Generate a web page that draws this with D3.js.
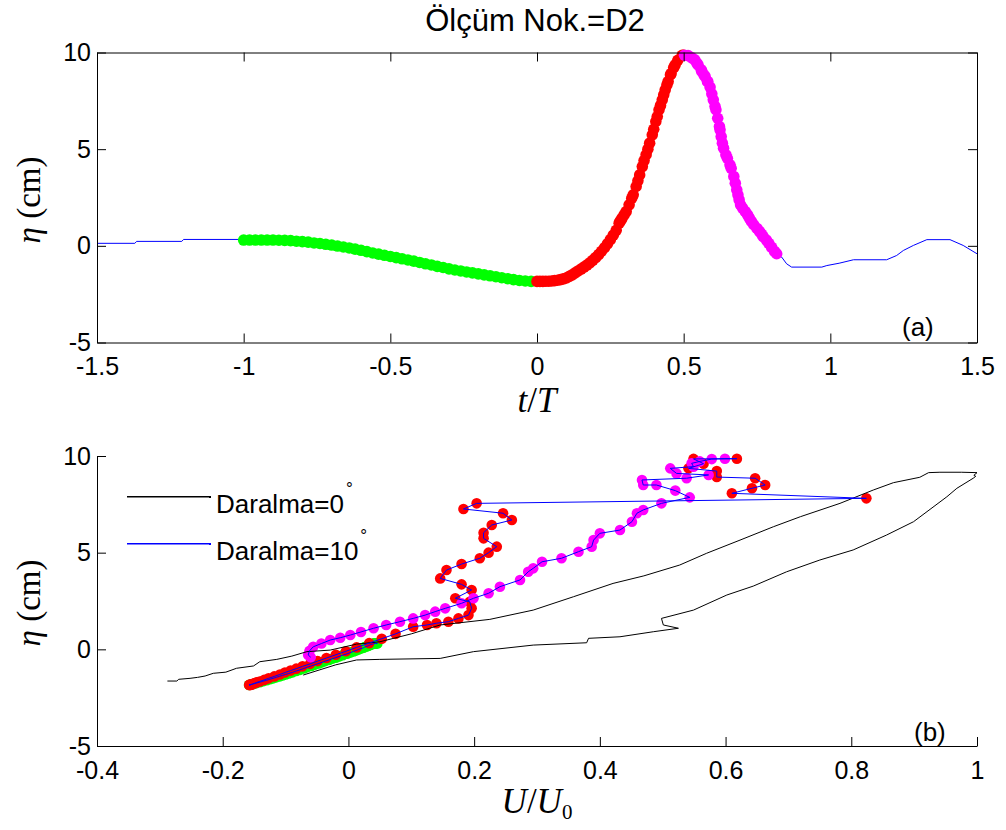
<!DOCTYPE html>
<html><head><meta charset="utf-8">
<script src="https://cdn.jsdelivr.net/npm/d3@7"></script>
<style>body{margin:0;background:#fff}svg{display:block}</style>
</head><body>
<svg id="c" width="1006" height="830"></svg>
<script>
// ---------- DATA ----------
const xTicksTop = [-1.5,-1,-0.5,0,0.5,1,1.5];
const xTickLabelsTop = ["-1.5","-1","-0.5","0","0.5","1","1.5"];
const yTicks = [-5,0,5,10];
const yTickLabels = ["-5","0","5","10"];
const xTicksBot = [-0.4,-0.2,0,0.2,0.4,0.6,0.8,1];
const xTickLabelsBot = ["-0.4","-0.2","0","0.2","0.4","0.6","0.8","1"];

// Daralma=10° time series (top panel), before the marked window
const preT   = [-1.5,-1.371,-1.365,-1.211,-1.205,-1.013];
const preEta = [0.13,0.13,0.23,0.23,0.33,0.33];

// green phase (t/T in [-1,0])
const greenT = [-1.00,-0.98,-0.96,-0.94,-0.92,-0.90,-0.88,-0.86,-0.84,-0.82,-0.80,-0.78,-0.76,-0.74,-0.72,-0.70,-0.68,-0.66,-0.64,-0.62,-0.60,-0.58,-0.56,-0.54,-0.52,-0.50,-0.48,-0.46,-0.44,-0.42,-0.40,-0.38,-0.36,-0.34,-0.32,-0.30,-0.28,-0.26,-0.24,-0.22,-0.20,-0.18,-0.16,-0.14,-0.12,-0.10,-0.08,-0.06,-0.04,-0.02];
const greenEta = [0.30,0.30,0.30,0.30,0.30,0.30,0.29,0.28,0.27,0.24,0.22,0.19,0.15,0.12,0.08,0.04,-0.01,-0.06,-0.11,-0.17,-0.23,-0.30,-0.37,-0.43,-0.49,-0.55,-0.61,-0.67,-0.73,-0.79,-0.86,-0.93,-0.99,-1.06,-1.12,-1.19,-1.25,-1.30,-1.35,-1.40,-1.45,-1.50,-1.55,-1.60,-1.65,-1.70,-1.75,-1.79,-1.82,-1.84];
const greenU = [0.044,0.046,0.043,0.041,0.042,0.041,0.040,0.039,0.038,0.035,0.034,0.032,0.029,0.026,0.024,0.020,0.016,0.012,0.008,0.003,-0.002,-0.009,-0.015,-0.020,-0.026,-0.031,-0.037,-0.042,-0.047,-0.053,-0.059,-0.066,-0.071,-0.077,-0.083,-0.089,-0.095,-0.100,-0.105,-0.110,-0.115,-0.120,-0.125,-0.130,-0.136,-0.141,-0.147,-0.151,-0.155,-0.158];

// red phase (t/T in [0,0.5])
const redT = [0.00,0.01,0.02,0.03,0.04,0.05,0.06,0.07,0.08,0.09,0.10,0.11,0.12,0.13,0.14,0.15,0.16,0.17,0.18,0.19,0.20,0.21,0.22,0.23,0.24,0.25,0.26,0.27,
  0.280,0.283,0.287,0.290,0.297,0.304,0.314,0.323,0.328,0.338,0.344,0.350,0.359,0.365,0.372,0.378,0.384,0.393,0.398,0.405,0.410,0.416,0.421,0.427,0.432,0.437,0.443,0.447,0.455,0.457,0.466,0.471,0.480,0.495,0.500];
const redEta = [-1.84,-1.84,-1.84,-1.83,-1.83,-1.82,-1.80,-1.78,-1.75,-1.71,-1.66,-1.58,-1.50,-1.40,-1.30,-1.20,-1.10,-1.00,-0.88,-0.75,-0.61,-0.45,-0.28,-0.10,0.10,0.32,0.55,0.80,
  1.17,1.26,1.35,1.43,1.60,1.77,2.12,2.46,2.64,3.07,3.36,3.67,4.10,4.41,4.71,5.00,5.31,5.74,6.03,6.43,6.69,7.04,7.26,7.55,7.81,8.07,8.33,8.50,8.85,8.91,9.22,9.36,9.60,9.85,9.86];
const redU = [-0.157,-0.156,-0.158,-0.156,-0.155,-0.155,-0.153,-0.152,-0.149,-0.146,-0.141,-0.134,-0.127,-0.118,-0.109,-0.101,-0.092,-0.083,-0.073,-0.061,-0.049,-0.035,-0.020,-0.004,0.013,0.033,0.053,0.075,
  0.103,0.125,0.140,0.159,0.175,0.191,0.196,0.193,0.170,0.196,0.180,0.146,0.156,0.180,0.209,0.223,0.236,0.215,0.215,0.228,0.260,0.246,0.183,0.204,0.824,0.610,0.642,0.663,0.647,0.586,0.586,0.541,0.565,0.549,0.618];

// magenta phase (t/T in [0.5,0.82])
const magT = [0.503,0.515,0.528,0.538,0.545,0.549,0.560,0.562,0.569,0.573,0.581,0.582,0.590,0.596,0.601,0.607,0.610,0.616,0.622,0.624,0.628,0.632,0.636,0.644,0.649,0.658,0.662,0.671,0.676,0.681,0.685,0.689,0.694,0.701,0.710,0.718,0.724,0.731,0.739,0.750,0.759,0.766,0.771,0.782,0.790,0.800,0.810,0.817];
const magEta = [9.86,9.84,9.72,9.62,9.45,9.36,9.10,9.02,8.85,8.76,8.50,8.50,8.21,7.86,7.55,7.21,7.04,6.60,6.17,6.00,5.65,5.31,5.05,4.71,4.53,4.19,4.01,3.59,3.24,2.90,2.64,2.38,2.12,1.95,1.77,1.60,1.43,1.26,1.09,0.90,0.74,0.60,0.48,0.30,0.13,-0.08,-0.29,-0.41];
const magU = [0.599,0.578,0.559,0.546,0.549,0.512,0.522,0.573,0.538,0.467,0.469,0.490,0.520,0.543,0.498,0.469,0.459,0.451,0.432,0.400,0.390,0.387,0.366,0.339,0.308,0.294,0.286,0.273,0.241,0.223,0.199,0.180,0.154,0.138,0.122,0.103,0.082,0.060,0.040,0.020,0.003,-0.013,-0.029,-0.043,-0.056,-0.062,-0.064,-0.060];

// after the marked window
const postT   = [0.834,0.851,0.868,0.971,0.988,1.030,1.079,1.192,1.226,1.249,1.283,1.329,1.408,1.453,1.5];
const postEta = [-0.58,-0.93,-1.10,-1.10,-1.02,-0.90,-0.72,-0.72,-0.50,-0.24,0.02,0.32,0.32,0.02,-0.41];

// Daralma=0° (bottom panel, black)
const blackU = [-0.288,-0.273,-0.270,-0.252,-0.240,-0.228,-0.215,-0.195,-0.178,-0.151,-0.141,-0.114,-0.090,-0.066,-0.029,0.013,0.050,0.100,0.146,0.225,0.294,0.358,0.421,0.470,0.527,0.570,0.623,0.676,0.719,0.782,0.835,0.867,0.909,0.923,0.941,0.975,1.000,0.995,0.998,0.994,0.968,0.952,0.899,0.856,0.803,0.750,0.697,0.644,0.602,0.549,0.498,0.501,0.525,0.485,0.432,0.382,0.379,0.294,0.199,0.146,0.050,0.013,-0.020,-0.072];
const blackEta = [-1.64,-1.64,-1.55,-1.50,-1.45,-1.38,-1.24,-1.18,-0.98,-0.86,-0.64,-0.52,-0.35,-0.12,-0.04,0.27,0.39,0.80,1.26,1.55,2.03,2.72,3.41,3.80,4.36,4.97,5.65,6.34,6.86,7.55,8.24,8.62,8.90,9.14,9.16,9.16,9.14,9.00,8.95,8.85,8.33,7.89,6.60,5.91,5.14,4.62,4.01,3.27,2.81,2.03,1.60,1.26,1.09,0.91,0.65,0.57,0.34,0.22,-0.12,-0.47,-0.52,-0.55,-0.80,-1.33];

const legendLabels = ["Daralma=0", "Daralma=10"];
const legendColors = ["#000000", "#0000ff"];

// ---------- DRAW ----------
const svg = d3.select('#c');
svg.append('rect').attr('width',1006).attr('height',830).attr('fill','#fff');
const SANS = "'Liberation Sans', Arial, Helvetica, sans-serif";
const SERIF = "'Liberation Serif', 'Times New Roman', serif";

const xTop = d3.scaleLinear().domain([-1.5,1.5]).range([97,977]);
const yTop = d3.scaleLinear().domain([-5,10]).range([342.5,52.5]);
const xBot = d3.scaleLinear().domain([-0.4,1]).range([97,977]);
const yBot = d3.scaleLinear().domain([-5,10]).range([746,456]);

const C = {green:'#00ff00', red:'#ff0000', mag:'#ff00ff', blue:'#0000ff'};

// ---- top panel ----
const gT = svg.append('g');
const allT = preT.concat(greenT, redT, magT, postT);
const allEta = preEta.concat(greenEta, redEta, magEta, postEta);
gT.append('path')
  .datum(d3.zip(allT, allEta))
  .attr('d', d3.line().x(d=>xTop(d[0])).y(d=>yTop(d[1])))
  .attr('fill','none').attr('stroke',C.blue).attr('stroke-width',1);

function dots(g, xs, ys, xsc, ysc, col, r){
  g.append('g').selectAll('circle').data(d3.zip(xs, ys)).join('circle')
    .attr('cx', d=>xsc(d[0])).attr('cy', d=>ysc(d[1])).attr('r', r).attr('fill', col);
}
dots(gT, greenT, greenEta, xTop, yTop, C.green, 5.8);
dots(gT, redT, redEta, xTop, yTop, C.red, 5.8);
dots(gT, magT, magEta, xTop, yTop, C.mag, 5.8);

function styleAxis(g){
  g.attr('font-family', SANS).attr('font-size', 25);
  g.selectAll('path.domain').attr('stroke','#000');
  g.selectAll('line').attr('stroke','#000');
  g.selectAll('text').attr('fill','#000');
}
const TS = -9;
styleAxis(svg.append('g').attr('transform','translate(0,342.5)')
  .call(d3.axisBottom(xTop).tickValues(xTicksTop).tickFormat((d,i)=>xTickLabelsTop[i]).tickSizeInner(TS).tickSizeOuter(0).tickPadding(15)));
styleAxis(svg.append('g').attr('transform','translate(0,52.5)')
  .call(d3.axisTop(xTop).tickValues(xTicksTop).tickFormat('').tickSizeInner(TS).tickSizeOuter(0)));
styleAxis(svg.append('g').attr('transform','translate(97,0)')
  .call(d3.axisLeft(yTop).tickValues(yTicks).tickFormat((d,i)=>yTickLabels[i]).tickSizeInner(TS).tickSizeOuter(0).tickPadding(6)));
styleAxis(svg.append('g').attr('transform','translate(977,0)')
  .call(d3.axisRight(yTop).tickValues(yTicks).tickFormat('').tickSizeInner(TS).tickSizeOuter(0)));

svg.append('text').attr('x',535).attr('y',31).attr('text-anchor','middle')
  .attr('font-family',SANS).attr('font-size',31).text('Ölçüm Nok.=D2');
svg.append('text').attr('x',902).attr('y',336).attr('font-family',SANS).attr('font-size',26).text('(a)');

function etaLabel(cy){
  const t = svg.append('text').attr('transform',`translate(40,${cy}) rotate(-90)`)
    .attr('text-anchor','middle').attr('font-family',SERIF).attr('font-size',33);
  t.append('tspan').attr('font-style','italic').text('η');
  t.append('tspan').text(' (cm)');
}
etaLabel(200);
const tl = svg.append('text').attr('x',537).attr('y',412).attr('text-anchor','middle')
  .attr('font-family',SERIF).attr('font-size',35);
tl.append('tspan').attr('font-style','italic').text('t');
tl.append('tspan').text('/');
tl.append('tspan').attr('font-style','italic').text('T');

// ---- bottom panel ----
const gB = svg.append('g');
dots(gB, greenU, greenEta, xBot, yBot, C.green, 5.3);
dots(gB, redU, redEta, xBot, yBot, C.red, 5.3);
dots(gB, magU, magEta, xBot, yBot, C.mag, 5.3);

gB.append('path').datum(d3.zip(blackU, blackEta))
  .attr('d', d3.line().x(d=>xBot(d[0])).y(d=>yBot(d[1])))
  .attr('fill','none').attr('stroke','#000').attr('stroke-width',1);
gB.append('path').datum(d3.zip(greenU.concat(redU, magU), greenEta.concat(redEta, magEta)))
  .attr('d', d3.line().x(d=>xBot(d[0])).y(d=>yBot(d[1])))
  .attr('fill','none').attr('stroke',C.blue).attr('stroke-width',1);

styleAxis(svg.append('g').attr('transform','translate(0,746)')
  .call(d3.axisBottom(xBot).tickValues(xTicksBot).tickFormat((d,i)=>xTickLabelsBot[i]).tickSizeInner(TS).tickSizeOuter(0).tickPadding(15)));
styleAxis(svg.append('g').attr('transform','translate(97,0)')
  .call(d3.axisLeft(yBot).tickValues(yTicks).tickFormat((d,i)=>yTickLabels[i]).tickSizeInner(TS).tickSizeOuter(0).tickPadding(6)));

svg.append('text').attr('x',914).attr('y',741).attr('font-family',SANS).attr('font-size',26).text('(b)');
etaLabel(603);
const ul = svg.append('text').attr('x',537).attr('y',813).attr('text-anchor','middle')
  .attr('font-family',SERIF).attr('font-size',35);
ul.append('tspan').attr('font-style','italic').text('U');
ul.append('tspan').text('/');
ul.append('tspan').attr('font-style','italic').text('U');
ul.append('tspan').attr('font-size',21).attr('dy',6).text('0');

// legend
const legY = [496, 543];
legendLabels.forEach((lab,i)=>{
  svg.append('rect').attr('x',127).attr('y',legY[i]).attr('width',82).attr('height',1.5)
    .attr('fill',legendColors[i]);
  svg.append('rect').attr('x',209).attr('y',legY[i]).attr('width',2).attr('height',2)
    .attr('fill',legendColors[i]);
  const tx = svg.append('text').attr('x',216).attr('y',legY[i]+17).attr('font-family',SANS).attr('font-size',26).text(lab);
  tx.append('tspan').attr('font-size',17).attr('dy',-19).attr('dx',2).text('°');
});
</script>
</body></html>
